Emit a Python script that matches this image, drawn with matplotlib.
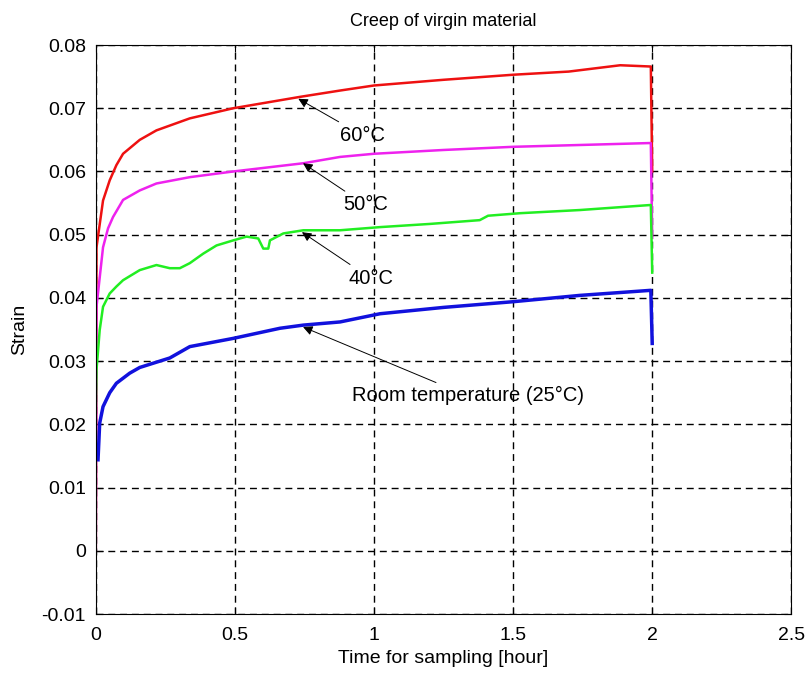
import numpy as np
import matplotlib
matplotlib.use("Agg")
from matplotlib import pyplot as plt

plt.rcParams['font.family'] = ['Liberation Sans', 'DejaVu Sans']

# Strain curves (time in hours)
t_60 = [0.0, 0.0025, 0.026, 0.05, 0.074, 0.098, 0.158, 0.218, 0.338, 0.494, 0.734, 0.878, 1.0, 1.25, 1.5, 1.7, 1.885, 1.995, 2.0]
s_60 = [0.0, 0.048, 0.0554, 0.0586, 0.0610, 0.0628, 0.0650, 0.0665, 0.0684, 0.0700, 0.0718, 0.0728, 0.0736, 0.0745, 0.0753, 0.0758, 0.0768, 0.0766, 0.0600]

t_50 = [0.0, 0.0025, 0.026, 0.044, 0.062, 0.098, 0.158, 0.218, 0.338, 0.494, 0.746, 0.878, 1.0, 1.25, 1.5, 1.75, 1.995, 2.0]
s_50 = [0.0, 0.0386, 0.048, 0.0510, 0.0528, 0.0555, 0.0570, 0.0581, 0.0591, 0.0600, 0.0613, 0.0623, 0.0628, 0.0634, 0.0639, 0.0642, 0.0645, 0.0495]

t_40 = [0.0, 0.0025, 0.014, 0.026, 0.05, 0.074, 0.098, 0.158, 0.218, 0.266, 0.302, 0.338, 0.386, 0.434, 0.494,
        0.542, 0.584, 0.602, 0.62, 0.626, 0.674, 0.746, 0.878, 1.022, 1.2, 1.38, 1.41, 1.525, 1.74, 1.995, 2.0]
s_40 = [0.022, 0.0286, 0.0349, 0.0386, 0.0407, 0.0418, 0.0428, 0.0444, 0.0452, 0.0447, 0.0447, 0.0455, 0.0470, 0.0483, 0.0491,
        0.0497, 0.0494, 0.0478, 0.0478, 0.0491, 0.0502, 0.0507, 0.0507, 0.0512, 0.0517, 0.0523, 0.0530, 0.0534, 0.0539, 0.0547, 0.0440]

t_25 = [0.008, 0.014, 0.026, 0.05, 0.074, 0.122, 0.158, 0.266, 0.338, 0.494, 0.662, 0.746, 0.878, 1.022, 1.25, 1.5, 1.74, 1.995, 2.0]
s_25 = [0.0144, 0.0202, 0.0228, 0.0250, 0.0265, 0.0281, 0.0290, 0.0305, 0.0323, 0.0336, 0.0352, 0.0357, 0.0362, 0.0375, 0.0385, 0.0394, 0.0404, 0.0412, 0.0328]

labels = ['60\u00b0C', '50\u00b0C', '40\u00b0C', 'Room temperature (25\u00b0C)']
arrow_tips = [(0.728, 0.0715), (0.745, 0.0613), (0.741, 0.0504), (0.745, 0.0354)]
text_pos = [(0.878, 0.0657), (0.889, 0.0547), (0.907, 0.0431), (0.921, 0.0245)]

fig = plt.figure(figsize=(8.05, 6.77), dpi=100)
ax = fig.add_axes([0.119, 0.093, 0.864, 0.8405])

ax.plot(t_60, s_60, color='#ee1111', lw=1.8)
ax.plot(t_50, s_50, color='#ee22ee', lw=1.8)
ax.plot(t_40, s_40, color='#22ee22', lw=1.8)
ax.plot(t_25, s_25, color='#1111dd', lw=2.5)

for lab, tip, pos in zip(labels, arrow_tips, text_pos):
    ax.annotate(lab, xy=tip, xytext=pos, fontsize=14.5, ha='left', va='center',
                arrowprops=dict(arrowstyle='-|>', color='black', lw=0.7,
                                mutation_scale=14, shrinkA=2, shrinkB=0))

ax.set_xlim(0, 2.5)
ax.set_ylim(-0.01, 0.08)
ax.set_xticks([0, 0.5, 1, 1.5, 2, 2.5])
ax.set_xticklabels(['0', '0.5', '1', '1.5', '2', '2.5'])
ax.set_yticks(np.arange(-0.01, 0.081, 0.01))
ax.set_yticklabels(['-0.01', '0', '0.01', '0.02', '0.03', '0.04', '0.05', '0.06', '0.07', '0.08'])
ax.tick_params(direction='in', top=True, right=True, labelsize=14, length=5)
ax.tick_params(axis='x', pad=9)
ax.tick_params(axis='y', pad=7)
ax.grid(True, color='black', linestyle=(0, (5, 3.5)), lw=1)

ax.set_title('Creep of virgin material', fontsize=13, pad=14)
ax.set_xlabel('Time for sampling [hour]', fontsize=14, labelpad=5)
ax.set_ylabel('Strain', fontsize=14, labelpad=10)

plt.savefig('out.png', dpi=100)
